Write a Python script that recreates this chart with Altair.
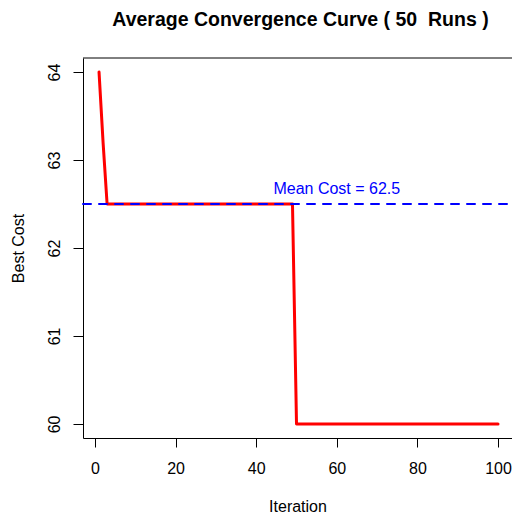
import altair as alt
import pandas as pd

# Data (breakpoints of the average convergence curve)
iterations = [1, 2, 3, 49, 50, 100]
best_cost = [64.0, 63.2, 62.5, 62.5, 60.0, 60.0]
mean_cost = 62.5
x_ticks = [0, 20, 40, 60, 80, 100]
y_ticks = [60, 61, 62, 63, 64]
title_text = "Average Convergence Curve ( 50\u00a0 Runs )"
mean_label = f"Mean Cost = {mean_cost}"

df = pd.DataFrame({"Iteration": iterations, "Best Cost": best_cost})
mean_df = pd.DataFrame({"mean": [mean_cost], "label": [mean_label], "x": [60]})

FONT = "Liberation Sans"
W, H = 429, 380

x_scale = alt.Scale(domain=[-2.98, 103.47], nice=False, zero=False)
y_scale = alt.Scale(domain=[59.84, 64.16], nice=False, zero=False)

x_axis = alt.Axis(
    values=x_ticks, title="Iteration", grid=False, format="d",
    domainColor="black", tickColor="black", tickSize=9,
    labelFont=FONT, labelFontSize=16, labelColor="black",
    labelBaseline="alphabetic", labelPadding=26, labelFlush=False,
    titleFont=FONT, titleFontSize=16, titleFontWeight="normal", titleColor="black",
    titleBaseline="alphabetic", titleX=W / 2, titleY=73, titleAlign="center",
)
y_axis = alt.Axis(
    values=y_ticks, title="Best Cost", grid=False, format="d",
    domainColor="black", tickColor="black", tickSize=10,
    labelFont=FONT, labelFontSize=16, labelColor="black",
    labelAngle=270, labelAlign="center", labelBaseline="alphabetic",
    labelPadding=14, labelFlush=False,
    titleFont=FONT, titleFontSize=16, titleFontWeight="normal", titleColor="black",
    titleAngle=270, titleBaseline="alphabetic", titleAlign="center",
    titleX=-60, titleY=H / 2,
)

line = alt.Chart(df).mark_line(
    color="#FF0000", strokeWidth=3, strokeJoin="round", strokeCap="round"
).encode(
    x=alt.X("Iteration:Q", scale=x_scale, axis=x_axis),
    y=alt.Y("Best Cost:Q", scale=y_scale, axis=y_axis),
)

mean_rule = alt.Chart(mean_df).mark_rule(
    color="#0000FF", strokeWidth=2, strokeDash=[8, 8], strokeCap="round"
).encode(
    y=alt.Y("mean:Q", scale=y_scale),
    x=alt.value(0), x2=alt.value(W),
)

mean_text = alt.Chart(mean_df).mark_text(
    color="#0000FF", font=FONT, fontSize=16, align="center",
    baseline="alphabetic", dy=-10,
).encode(
    x=alt.X("x:Q", scale=x_scale),
    y=alt.Y("mean:Q", scale=y_scale),
    text="label:N",
)

top_border = alt.Chart(mean_df).mark_rule(color="black", strokeWidth=1).encode(
    x=alt.value(0), x2=alt.value(W), y=alt.value(0)
)

chart = alt.layer(line, mean_rule, mean_text, top_border).properties(
    width=W, height=H,
    title=alt.TitleParams(
        title_text, font=FONT, fontSize=19.5, fontWeight="bold", color="black",
        anchor="middle", frame="group", baseline="alphabetic", offset=12, dx=3,
    ),
    autosize=alt.AutoSizeParams(type="none"),
    padding={"left": 75, "top": 50, "right": 0, "bottom": 77},
).configure_view(stroke=None)

chart.save("out.html", embed_options={"renderer": "svg", "actions": False})
